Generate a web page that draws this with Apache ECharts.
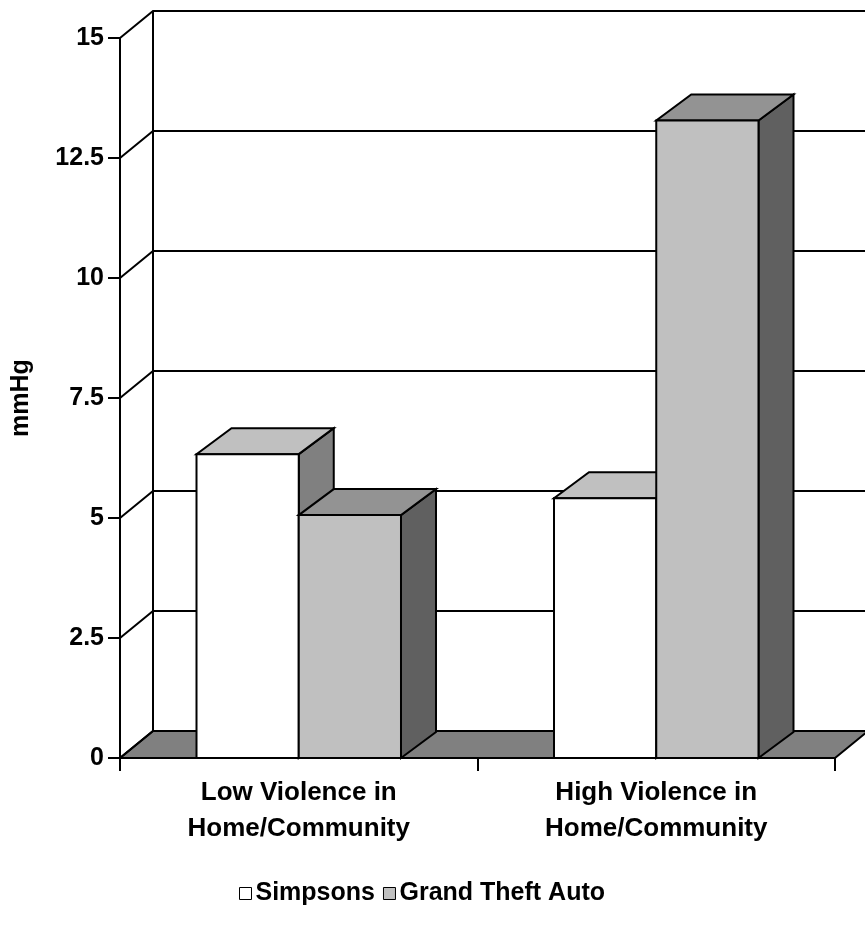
<!DOCTYPE html>
<html>
<head>
<meta charset="utf-8">
<script src="https://cdn.jsdelivr.net/npm/echarts@6/dist/echarts.min.js"></script>
<style>
  html, body { margin: 0; padding: 0; background: #fff; }
  #chart { width: 865px; height: 933px; }
</style>
</head>
<body>
<div id="chart"></div>
<script>
// Chart data
const categories = ['Low Violence in\nHome/Community', 'High Violence in\nHome/Community'];
const seriesNames = ['Simpsons', 'Grand Theft Auto'];
const simpsons = [6.33, 5.41];
const grandTheftAuto = [5.06, 13.28];
const yTicks = [0, 2.5, 5, 7.5, 10, 12.5, 15];

// Pseudo-3D styling
const FONT = '"Liberation Sans", Arial, sans-serif';
const WALL_DX = 33, WALL_DY = -27;   // depth of the back wall
const BAR_DX = 35, BAR_DY = -26;     // depth of each bar
const BAR_RATIO = 0.286;             // bar width as a share of the category band
const EDGE = { stroke: '#000', lineWidth: 2, lineJoin: 'miter' };

const palette = {
  simpsons: { front: '#ffffff', top: '#c0c0c0', side: '#808080' },
  gta: { front: '#c0c0c0', top: '#939393', side: '#606060' }
};

const chart = echarts.init(document.getElementById('chart'), null, { renderer: 'canvas' });

// Floor slab and back-wall frame
function floorRenderer(params, api) {
  const cs = params.coordSys;
  const y0 = api.coord([0, yTicks[0]])[1];
  const yTop = api.coord([0, yTicks[yTicks.length - 1]])[1];
  const xl = cs.x, xr = cs.x + cs.width;
  return {
    type: 'group',
    children: [
      {
        type: 'polygon',
        shape: { points: [[xl, y0], [xr, y0], [xr + WALL_DX, y0 + WALL_DY], [xl + WALL_DX, y0 + WALL_DY]] },
        style: Object.assign({ fill: '#808080' }, EDGE)
      },
      {
        type: 'line',
        shape: { x1: xl + WALL_DX, y1: y0 + WALL_DY, x2: xl + WALL_DX, y2: yTop + WALL_DY },
        style: { stroke: '#000', lineWidth: 2 }
      }
    ]
  };
}

// Gridlines running along the side wall and the back wall
function wallRenderer(params, api) {
  const cs = params.coordSys;
  const y = api.coord([0, api.value(1)])[1];
  const xl = cs.x, xr = cs.x + cs.width;
  return {
    type: 'polyline',
    shape: { points: [[xl, y], [xl + WALL_DX, y + WALL_DY], [xr + WALL_DX, y + WALL_DY]] },
    style: { stroke: '#000', lineWidth: 2, fill: null }
  };
}

// Box-shaped bar: front face, top face and right side face
function barRenderer(slot, colors) {
  return function (params, api) {
    const cat = api.value(0);
    const val = api.value(1);
    const top = api.coord([cat, val]);
    const base = api.coord([cat, 0]);
    const band = api.size([1, 0])[0];
    const w = band * BAR_RATIO;
    const x0 = top[0] + (slot === 0 ? -w : 0);
    const x1 = x0 + w;
    const yT = top[1], yB = base[1];
    return {
      type: 'group',
      children: [
        {
          type: 'polygon',
          shape: { points: [[x1, yB], [x1 + BAR_DX, yB + BAR_DY], [x1 + BAR_DX, yT + BAR_DY], [x1, yT]] },
          style: Object.assign({ fill: colors.side }, EDGE)
        },
        {
          type: 'polygon',
          shape: { points: [[x0, yT], [x1, yT], [x1 + BAR_DX, yT + BAR_DY], [x0 + BAR_DX, yT + BAR_DY]] },
          style: Object.assign({ fill: colors.top }, EDGE)
        },
        {
          type: 'rect',
          shape: { x: x0, y: yT, width: w, height: yB - yT },
          style: Object.assign({ fill: colors.front }, EDGE)
        }
      ]
    };
  };
}

const option = {
  animation: false,
  backgroundColor: '#ffffff',
  textStyle: { fontFamily: FONT, color: '#000' },
  grid: { left: 120, right: 30, top: 38, bottom: 175, containLabel: false },
  legend: {
    top: 876,
    left: 234,
    icon: 'rect',
    itemWidth: 12,
    itemHeight: 12,
    itemGap: 8,
    selectedMode: false,
    textStyle: { fontFamily: FONT, fontWeight: 'bold', fontSize: 25, color: '#000', padding: [0, 0, 0, -1] },
    data: [
      { name: seriesNames[0], itemStyle: { color: palette.simpsons.front, borderColor: '#000', borderWidth: 1 } },
      { name: seriesNames[1], itemStyle: { color: palette.gta.front, borderColor: '#000', borderWidth: 1 } }
    ]
  },
  xAxis: {
    type: 'category',
    data: categories,
    boundaryGap: true,
    axisLine: { show: true, lineStyle: { color: '#000', width: 2 } },
    axisTick: { show: true, length: 13, lineStyle: { color: '#000', width: 2 } },
    axisLabel: {
      fontFamily: FONT, fontWeight: 'bold', fontSize: 26, color: '#000',
      lineHeight: 36, margin: 17, interval: 0
    },
    splitLine: { show: false }
  },
  yAxis: {
    type: 'value',
    min: 0,
    max: 15,
    interval: 2.5,
    name: 'mmHg',
    nameLocation: 'middle',
    nameRotate: 90,
    nameGap: 86,
    nameTextStyle: { fontFamily: FONT, fontWeight: 'bold', fontSize: 25, color: '#000' },
    axisLine: { show: true, lineStyle: { color: '#000', width: 2 } },
    axisTick: { show: true, length: 12, lineStyle: { color: '#000', width: 2 } },
    axisLabel: { fontFamily: FONT, fontWeight: 'bold', fontSize: 25, color: '#000', margin: 16 },
    splitLine: { show: false }
  },
  series: [
    {
      type: 'custom',
      name: 'floor',
      silent: true,
      renderItem: floorRenderer,
      data: [[0, 0]],
      encode: { x: 0, y: 1 },
      z: 1
    },
    {
      type: 'custom',
      name: 'walls',
      silent: true,
      renderItem: wallRenderer,
      data: yTicks.map(v => [0, v]),
      encode: { x: 0, y: 1 },
      z: 1
    },
    {
      type: 'custom',
      name: seriesNames[0],
      renderItem: barRenderer(0, palette.simpsons),
      itemStyle: { color: palette.simpsons.front, borderColor: '#000' },
      data: simpsons.map((v, i) => [i, v]),
      encode: { x: 0, y: 1 },
      z: 2
    },
    {
      type: 'custom',
      name: seriesNames[1],
      renderItem: barRenderer(1, palette.gta),
      itemStyle: { color: palette.gta.front, borderColor: '#000' },
      data: grandTheftAuto.map((v, i) => [i, v]),
      encode: { x: 0, y: 1 },
      z: 2
    }
  ]
};

chart.setOption(option);
</script>
</body>
</html>
